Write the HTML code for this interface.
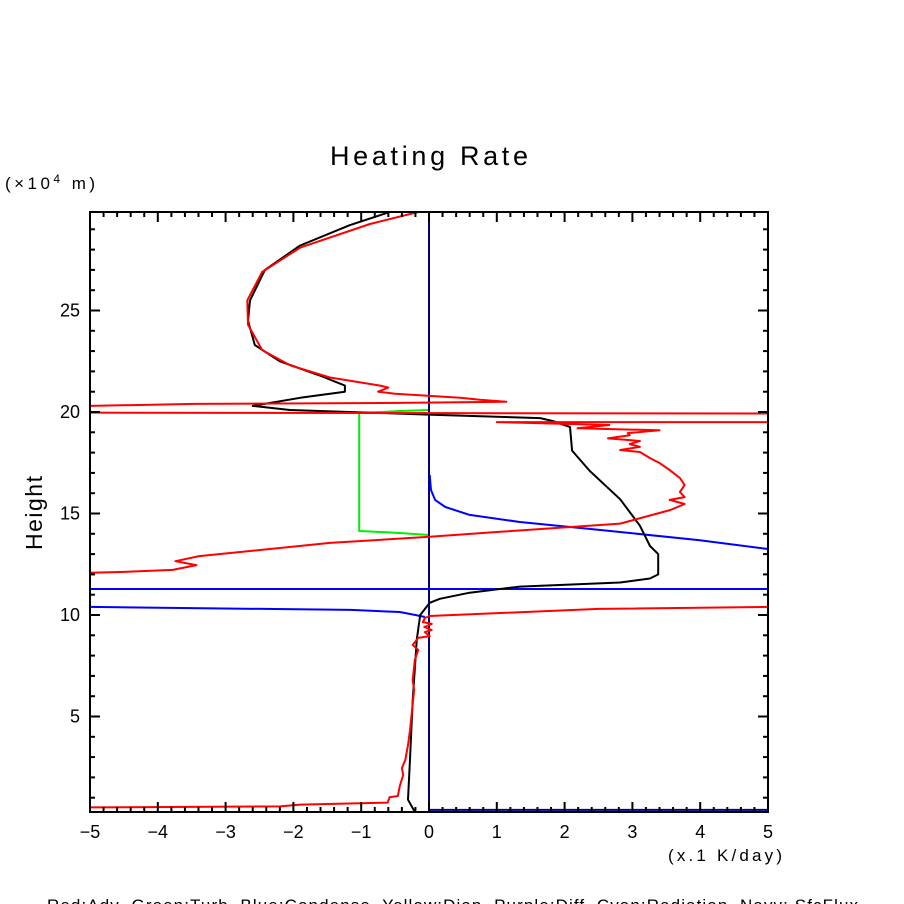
<!DOCTYPE html>
<html><head><meta charset="utf-8"><style>
html,body{margin:0;padding:0;background:#fff;width:904px;height:904px;overflow:hidden}
svg{display:block;font-family:"Liberation Sans",sans-serif}
</style></head><body>
<svg id="chart" width="904" height="904" viewBox="0 0 904 904" xmlns="http://www.w3.org/2000/svg">
<text x="330" y="165" font-size="27" textLength="198" lengthAdjust="spacing">Heating Rate</text>
<text x="5" y="189" font-size="17" textLength="90" lengthAdjust="spacing">(×10<tspan font-size="12" dy="-6">4</tspan><tspan dy="6"> m)</tspan></text>
<text x="0" y="0" font-size="23" text-anchor="middle" textLength="74" lengthAdjust="spacing" transform="translate(42,513) rotate(-90)">Height</text>
<text x="668" y="861" font-size="17" textLength="114" lengthAdjust="spacing">(x.1 K/day)</text>
<text x="47" y="911" font-size="17" textLength="811" lengthAdjust="spacing" xml:space="preserve">Red:Adv  Green:Turb  Blue:Condense  Yellow:Diap  Purple:Diff  Cyan:Radiation  Navy: SfcFlux</text>
<defs><clipPath id="pc"><rect x="90" y="212" width="678" height="600"/></clipPath></defs>
<g id="series" clip-path="url(#pc)"></g>
<g id="axes"></g>
</svg>
<script>
// values in data units: x = heating rate (x.1 K/day), h = height (x10^4 m); null = break
const xTicks=[-5,-4,-3,-2,-1,0,1,2,3,4,5];
const yTicks=[5,10,15,20,25];
const blackX=[-0.58,-1.17,-1.9,-2.42,-2.64,-2.67,-2.57,-2.2,-1.61,-1.24,-1.24,-1.9,-2.6,-2.05,-1.17,0.16,1.64,1.83,2.08,2.11,2.37,2.82,3.11,3.26,3.38,3.38,3.26,2.82,1.34,0.6,0.16,0.01,-0.13,-0.18,-0.24,-0.28,-0.31,-0.21];
const blackH=[29.85,29.2,28.2,27.0,25.5,24.5,23.3,22.5,21.8,21.3,21.0,20.7,20.3,20.1,20.0,19.85,19.7,19.55,19.26,18.1,17.1,15.7,14.4,13.4,13.0,12.0,11.8,11.6,11.4,11.1,10.8,10.6,10.0,8.8,5.8,2.9,0.9,0.3];
const redX=[-0.16,-0.87,-1.9,-2.46,-2.68,-2.67,-2.46,-2.05,-1.46,-0.72,-0.6,-0.75,-0.5,0.46,0.75,1.14,-0.43,-3.45,-5.0,-6,null,-6,6,6,1.0,2.66,2.19,3.4,2.93,2.96,2.64,3.11,2.96,3.11,2.82,3.11,3.26,3.4,3.55,3.7,3.77,3.7,3.77,3.55,3.77,3.56,2.82,1.05,0.01,-1.46,-3.39,-3.74,-3.43,-3.78,-4.55,-6,null,6,2.5,0.01,-0.06,-0.09,0.04,-0.07,0.04,-0.06,0.01,-0.16,-0.24,-0.16,-0.21,-0.24,-0.22,-0.25,-0.28,-0.31,-0.35,-0.4,-0.38,-0.43,-0.46,-0.58,-0.61,-1.9,-2.2,-5.0,-6];
const redH=[29.85,29.26,28.1,26.9,25.5,24.3,23.05,22.3,21.7,21.3,21.2,21.0,20.9,20.7,20.6,20.5,20.45,20.4,20.3,20.3,null,19.97,19.92,19.5,19.5,19.36,19.2,19.1,18.96,18.85,18.7,18.57,18.42,18.28,18.13,18.03,17.73,17.49,17.14,16.75,16.4,16.06,15.81,15.67,15.47,15.17,14.5,14.1,13.85,13.55,12.9,12.65,12.46,12.22,12.12,12.0,null,10.44,10.3,9.95,9.85,9.65,9.56,9.41,9.26,9.16,8.96,8.87,8.52,8.28,7.78,6.79,6.3,5.32,4.33,3.59,2.86,2.46,2.12,1.58,1.08,1.03,0.76,0.66,0.57,0.52,0.5];
const greenX=[0.01,-0.43,-0.72,-1.03,-1.03,-0.72,-0.43,0.0];
const greenH=[20.1,20.05,20.0,19.95,14.14,14.09,14.04,13.94];
const blueX=[0.01,0.03,0.09,0.24,0.6,1.34,2.51,3.98,5.0,6,null,6,-6,null,-6,-3.5,-1.15,-0.43,-0.2,-0.06];
const blueH=[16.9,16.16,15.67,15.32,14.93,14.58,14.19,13.69,13.25,12.9,null,11.28,11.28,null,10.44,10.34,10.25,10.15,10.0,9.9];
const navyX=[0,0,null,0,5.0];
const navyH=[29.85,0.3,null,0.4,0.4];

const X=v=>429+67.8*v, Y=h=>818-20.3*h;
const NS='http://www.w3.org/2000/svg';
const gS=document.getElementById('series'), gA=document.getElementById('axes');
function mk(t,a,p){const e=document.createElementNS(NS,t);for(const k in a)e.setAttribute(k,a[k]);p.appendChild(e);return e;}
function series(xs,hs,color,name){
  let d='',pen=false;
  for(let i=0;i<xs.length;i++){
    if(xs[i]===null||hs[i]===null){pen=false;continue;}
    d+=(pen?'L':'M')+X(xs[i]).toFixed(1)+' '+Y(hs[i]).toFixed(1);pen=true;
  }
  const p=mk('path',{d:d,fill:'none',stroke:color,'stroke-width':2,'stroke-linejoin':'round'},gS);
  
  
}
series(greenX,greenH,'#00ee00','turb-line');
series(blueX,blueH,'#0000ff','condense-line');
series(navyX,navyH,'#000080','sfcflux-line');
series(blackX,blackH,'#000000','total-line');
series(redX,redH,'#ff0000','adv-line');
const fr=mk('rect',{x:90,y:212,width:678,height:600,fill:'none',stroke:'#000','stroke-width':2},gA);


for(let v=-5;v<=5.001;v+=0.2){
  const major=Math.abs(v-Math.round(v))<0.01, L=major?10:5, x=X(v);
  mk('line',{x1:x,y1:812,x2:x,y2:812-L,stroke:'#000','stroke-width':2},gA);
  mk('line',{x1:x,y1:212,x2:x,y2:212+L,stroke:'#000','stroke-width':2},gA);
}
for(let h=1;h<=29;h++){
  const L=h%5===0?10:5,y=Y(h);
  mk('line',{x1:90,y1:y,x2:90+L,y2:y,stroke:'#000','stroke-width':2},gA);
  mk('line',{x1:768,y1:y,x2:768-L,y2:y,stroke:'#000','stroke-width':2},gA);
}
xTicks.forEach(v=>{
  const t=mk('text',{x:X(v),y:838,'font-size':18,'text-anchor':'middle'},gA);
  t.textContent=(v<0?'\u2212'+(-v):String(v));
  
  
});
yTicks.forEach(h=>{
  const t=mk('text',{x:80,y:Y(h)+6,'font-size':18,'text-anchor':'end'},gA);
  t.textContent=String(h);
  
  
});
</script>
</body></html>
